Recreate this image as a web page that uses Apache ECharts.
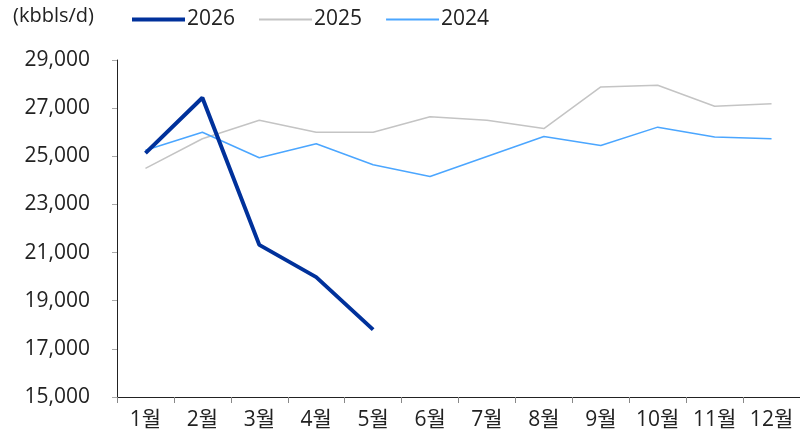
<!DOCTYPE html>
<html><head><meta charset="utf-8">
<script src="https://cdn.jsdelivr.net/npm/echarts@6/dist/echarts.min.js"></script>
<style>html,body{margin:0;padding:0;background:#fff}#c{width:800px;height:438px}</style>
</head><body><div id="c"></div>
<script>
const categories = ['1월','2월','3월','4월','5월','6월','7월','8월','9월','10월','11월','12월'];
const s2026 = [25130, 27430, 21320, 19980, 17800];
const s2025 = [24500, 25730, 26500, 26000, 26000, 26640, 26500, 26150, 27880, 27950, 27080, 27180];
const s2024 = [25250, 26000, 24940, 25520, 24650, 24160, 24990, 25820, 25450, 26210, 25800, 25730];
const yTicks = {min: 15000, max: 29000, interval: 2000};
const unitLabel = '(kbbls/d)';

const FONT = '"Open Sans", "Noto Sans CJK KR", sans-serif';
const chart = echarts.init(document.getElementById('c'), null, {renderer: 'canvas'});
chart.setOption({
  animation: false,
  textStyle: {fontFamily: FONT},
  graphic: [{type: 'text', left: 13, top: 6, style: {text: unitLabel, font: '20px ' + FONT, fill: '#222'}}],
  legend: {
    left: 125, top: 4, itemWidth: 53, itemHeight: 8, itemGap: 23,
    textStyle: {fontSize: 21, color: '#222', fontFamily: FONT, padding: [0,0,0,-3]},
    itemStyle: {opacity: 0},
    data: [
      {name: '2026', lineStyle: {width: 4}},
      {name: '2025', lineStyle: {width: 2}},
      {name: '2024', lineStyle: {width: 2}}
    ]
  },
  grid: {left: 117, top: 60, bottom: 41, right: -3, containLabel: false},
  xAxis: {
    type: 'category', data: categories, boundaryGap: true,
    axisLine: {lineStyle: {color: '#222', width: 1}},
    axisTick: {show: true, length: 6, lineStyle: {color: '#888'}},
    axisLabel: {fontSize: 21, color: '#222', margin: 13, fontFamily: FONT, interval: 0}
  },
  yAxis: {
    type: 'value', min: yTicks.min, max: yTicks.max, interval: yTicks.interval,
    axisLine: {show: true, lineStyle: {color: '#222', width: 1}},
    axisTick: {show: true, length: 5, lineStyle: {color: '#aaa'}},
    splitLine: {show: false},
    axisLabel: {fontSize: 21, color: '#222', margin: 27, fontFamily: FONT,
      formatter: v => v.toLocaleString('en-US')}
  },
  series: [
    {name: '2026', type: 'line', data: s2026, symbol: 'none', lineStyle: {color: '#00319B', width: 4}, itemStyle: {color: '#00319B'}, z: 5},
    {name: '2025', type: 'line', data: s2025, symbol: 'none', lineStyle: {color: '#C4C4C4', width: 1.5}, itemStyle: {color: '#C4C4C4'}, z: 3},
    {name: '2024', type: 'line', data: s2024, symbol: 'none', lineStyle: {color: '#4BA6FF', width: 1.5}, itemStyle: {color: '#4BA6FF'}, z: 4}
  ]
});
</script></body></html>
